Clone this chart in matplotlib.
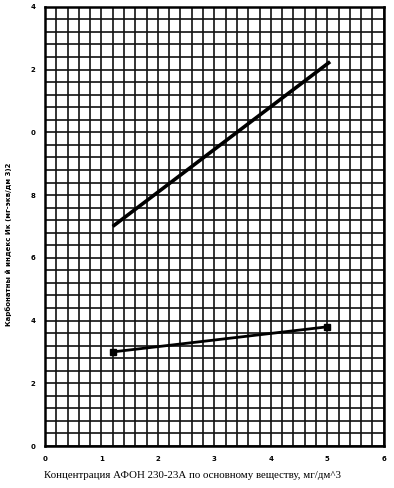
import numpy as np
import matplotlib.pyplot as plt
from matplotlib.ticker import MultipleLocator

# данные с графика
x_upper = [1.2, 5.05]
y_upper = [7.0, 12.25]
x_lower = [1.2, 5.0]
y_lower = [3.0, 3.8]

x_ticks = [0, 1, 2, 3, 4, 5, 6]
y_ticks = [0, 2, 4, 6, 8, 10, 12, 14]
y_tick_labels = ['0', '2', '4', '6', '8', '0', '2', '4']  # на картинке обрезаны

fig = plt.figure(figsize=(3.94, 4.88), dpi=100)
ax = fig.add_axes([0.114, 0.086, 0.860, 0.900])

ax.plot(x_upper, y_upper, color='black', lw=2.6, solid_capstyle='butt', zorder=5)
ax.plot(x_lower, y_lower, color='black', lw=2.0, marker='s', markersize=5, zorder=5)

ax.set_xlim(0, 6)
ax.set_ylim(0, 14)
ax.set_xticks(x_ticks)
ax.set_yticks(y_ticks)
ax.set_yticklabels(y_tick_labels)
ax.xaxis.set_minor_locator(MultipleLocator(0.2))
ax.yaxis.set_minor_locator(MultipleLocator(0.4))
ax.grid(which='both', color='#111111', lw=1.2)
ax.set_axisbelow(True)
ax.tick_params(which='both', length=0, labelsize=5, pad=7)
for lab in ax.get_xticklabels() + ax.get_yticklabels():
    lab.set_fontweight('bold')
for s in ax.spines.values():
    s.set_linewidth(1.8)

ax.set_xlabel('Концентрация АФОН 230-23А по основному веществу, мг/дм^3',
              family='Liberation Serif', fontsize=7.8, labelpad=7, x=0.435)
fig.text(0.022, 0.50, 'Карбонатны й индекс Ик (мг-экв/дм 3)2', rotation=90,
         fontsize=5, fontweight='bold', ha='center', va='center')

fig.savefig('out.png', dpi=100)
